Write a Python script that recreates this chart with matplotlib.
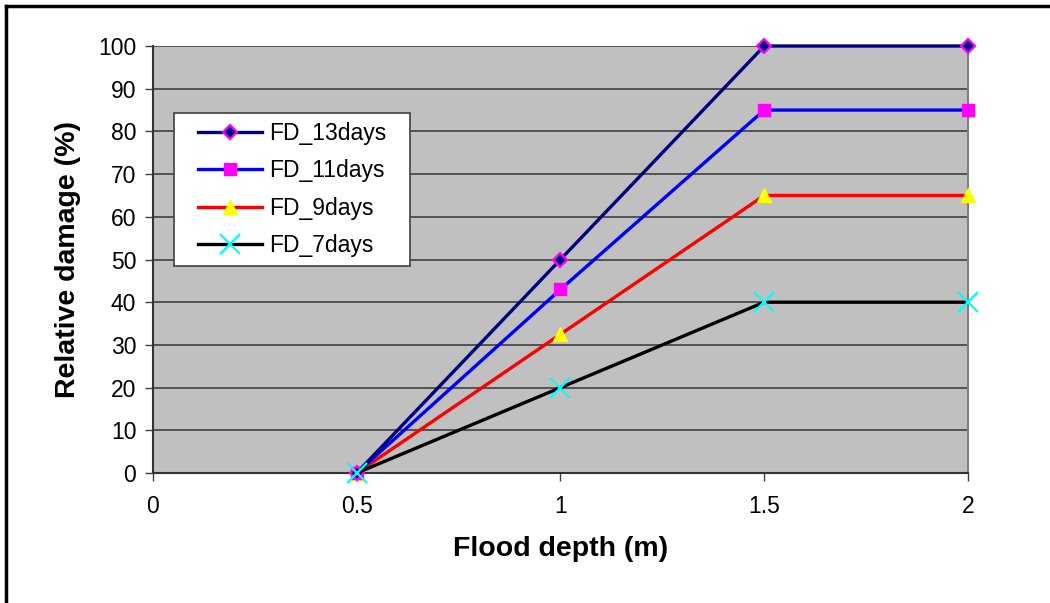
import numpy as np
import matplotlib.pyplot as plt
from matplotlib.lines import Line2D
from matplotlib.legend_handler import HandlerLine2D

plt.rcParams['font.family'] = ['Liberation Sans', 'DejaVu Sans']

# flood depth (m) and relative damage (%) per flood duration
depth = [0.5, 1, 1.5, 2]
fd_13days = [0, 50, 100, 100]
fd_11days = [0, 43, 85, 85]
fd_9days = [0, 32.5, 65, 65]
fd_7days = [0, 20, 40, 40]

fig = plt.figure(figsize=(10.5, 6.03), dpi=100)
ax = fig.add_axes([0.1457, 0.2156, 0.9219 - 0.1457, 0.9237 - 0.2156])
ax.set_facecolor('#c0c0c0')

ax.plot(depth, fd_13days, color='#000080', lw=2.4, marker='D', ms=7.5,
        mfc='#000080', mec='#ff00ff', mew=1.6, label='FD_13days', zorder=6,
        clip_on=False)
ax.plot(depth, fd_11days, color='#0000ff', lw=2.4, marker='s', ms=9,
        mfc='#ff00ff', mec='#ff00ff', label='FD_11days', zorder=5,
        clip_on=False)
ax.plot(depth, fd_9days, color='#ff0000', lw=2.4, marker='^', ms=10,
        mfc='#ffff00', mec='#ffff00', label='FD_9days', zorder=4,
        clip_on=False)
ax.plot(depth, fd_7days, color='#000000', lw=2.4, marker='x', ms=15,
        mec='#00ffff', mew=1.6, label='FD_7days', zorder=7, clip_on=False)

ax.set_xlim(0, 2)
ax.set_ylim(0, 100)
ax.set_xticks([0, 0.5, 1, 1.5, 2])
ax.set_xticklabels(['0', '0.5', '1', '1.5', '2'])
ax.set_yticks(np.arange(0, 101, 10))
ax.yaxis.grid(True, color='#404040', lw=1.2)
ax.set_axisbelow(True)
ax.tick_params(labelsize=16.5, length=6, width=1, color='#404040')
ax.tick_params(axis='x', pad=10)
ax.tick_params(axis='y', pad=6)

for side in ['left', 'bottom']:
    ax.spines[side].set_color('#333333')
    ax.spines[side].set_linewidth(1.5)
ax.spines['top'].set_visible(False)
ax.spines['right'].set_color('#808080')
ax.spines['right'].set_linewidth(1.5)

ax.set_xlabel('Flood depth (m)', fontsize=20.5, fontweight='bold', labelpad=13)
ax.set_ylabel('Relative damage (%)', fontsize=20.5, fontweight='bold', labelpad=12)

leg = ax.legend(loc='upper left', bbox_to_anchor=(0.026, 0.5, 0.2896, 0.343),
                mode='expand', fontsize=16.5,
                frameon=True, fancybox=False, framealpha=1, edgecolor='#404040',
                borderpad=0.4, labelspacing=0.62, handlelength=3.45,
                handletextpad=0.3, borderaxespad=0,
                handler_map={Line2D: HandlerLine2D(xpad=0.65)})
leg.get_frame().set_linewidth(1.2)

# figure frame along top and left edges
fig.add_artist(Line2D([6 / 1050, 1], [1 - 6 / 603, 1 - 6 / 603], color='black', lw=2.5))
fig.add_artist(Line2D([6 / 1050, 6 / 1050], [0, 1 - 6 / 603], color='black', lw=2.5))

fig.savefig('out.png', dpi=100)
